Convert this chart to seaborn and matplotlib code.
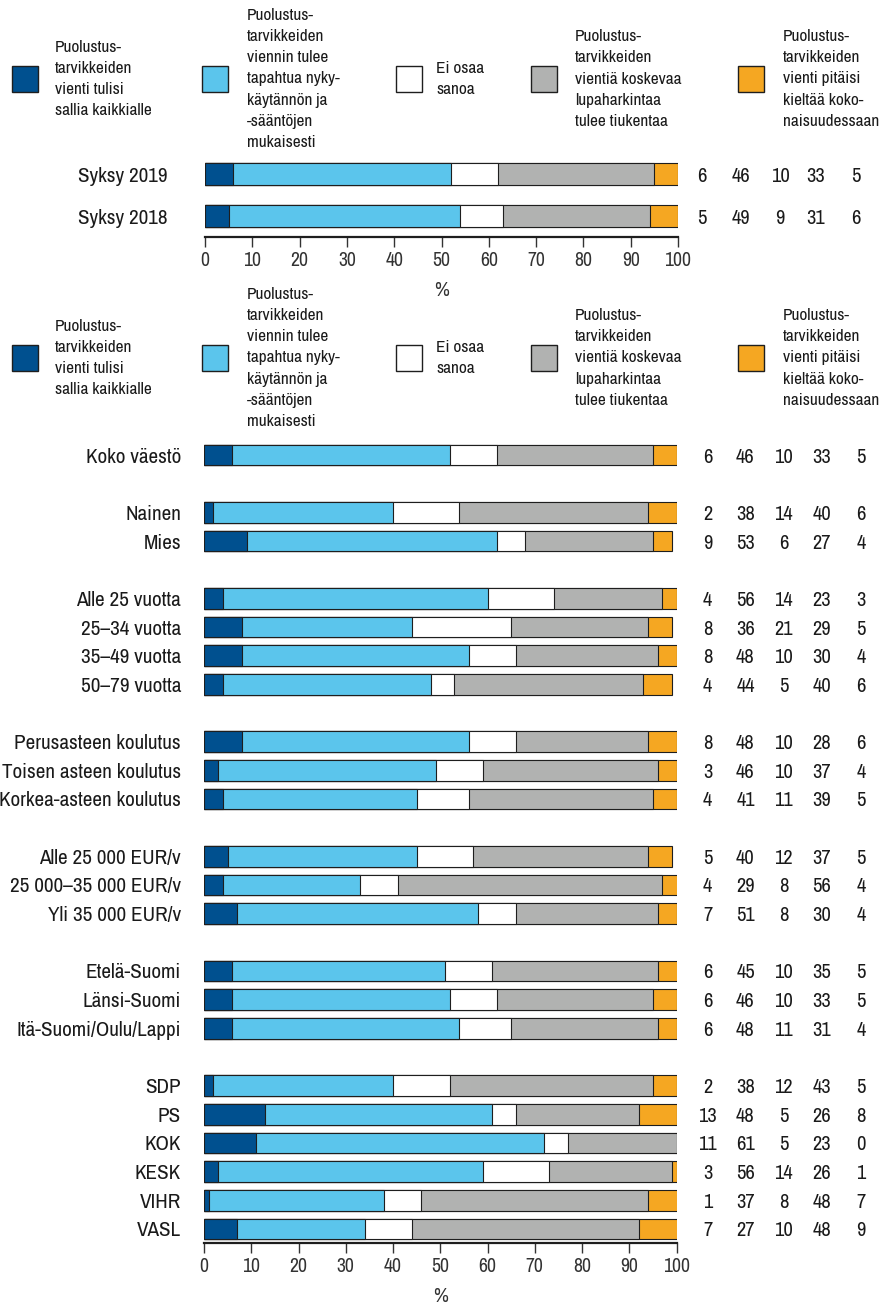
import matplotlib
matplotlib.use("Agg")
import matplotlib.pyplot as plt
from matplotlib import font_manager as fm
from matplotlib.font_manager import FontProperties
from matplotlib.textpath import TextPath
from matplotlib.patches import Rectangle
import numpy as np
import pandas as pd
import seaborn as sns

sns.set_style("white")

# --- answer options (legend) ---------------------------------------------
series_names = [
    "Puolustus-\ntarvikkeiden\nvienti tulisi\nsallia kaikkialle",
    "Puolustus-\ntarvikkeiden\nviennin tulee\ntapahtua nyky-\nkäytännön ja\n-sääntöjen\nmukaisesti",
    "Ei osaa\nsanoa",
    "Puolustus-\ntarvikkeiden\nvientiä koskevaa\nlupaharkintaa\ntulee tiukentaa",
    "Puolustus-\ntarvikkeiden\nvienti pitäisi\nkieltää koko-\nnaisuudessaan",
]
series_colors = ["#00508f", "#5bc5ec", "#ffffff", "#b1b2b1", "#f5a722"]

# --- trend panel ------------------------------------------------------------
trend_labels = ["Syksy 2019", "Syksy 2018"]
trend_allow = [6, 5]
trend_current = [46, 49]
trend_dontknow = [10, 9]
trend_tighten = [33, 31]
trend_ban = [5, 6]

# --- background groups panel -----------------------------------------------
group_labels = [
    "Koko väestö",
    "Nainen", "Mies",
    "Alle 25 vuotta", "25–34 vuotta", "35–49 vuotta", "50–79 vuotta",
    "Perusasteen koulutus", "Toisen asteen koulutus", "Korkea-asteen koulutus",
    "Alle 25 000 EUR/v", "25 000–35 000 EUR/v", "Yli 35 000 EUR/v",
    "Etelä-Suomi", "Länsi-Suomi", "Itä-Suomi/Oulu/Lappi",
    "SDP", "PS", "KOK", "KESK", "VIHR", "VASL",
]
group_sizes = [1, 2, 4, 3, 3, 3, 6]
group_allow = [6, 2, 9, 4, 8, 8, 4, 8, 3, 4, 5, 4, 7, 6, 6, 6, 2, 13, 11, 3, 1, 7]
group_current = [46, 38, 53, 56, 36, 48, 44, 48, 46, 41, 40, 29, 51, 45, 46, 48, 38, 48, 61, 56, 37, 27]
group_dontknow = [10, 14, 6, 14, 21, 10, 5, 10, 10, 11, 12, 8, 8, 10, 10, 11, 12, 5, 5, 14, 8, 10]
group_tighten = [33, 40, 27, 23, 29, 30, 40, 28, 37, 39, 37, 56, 30, 35, 33, 31, 43, 26, 23, 26, 48, 48]
group_ban = [5, 6, 4, 3, 5, 4, 6, 6, 4, 5, 5, 4, 4, 5, 5, 4, 5, 8, 0, 1, 7, 9]

W, H = 882, 1307
EDGE = "#1e1e1e"
TEXT = "#1a1a1a"
TICK = "#333333"


# --- font: prefer a narrow sans face ------------------------------------------
def pick_font():
    entries = fm.fontManager.ttflist
    for e in entries:
        low = e.name.lower()
        if ("narrow" in low or "condensed" in low) and "mono" not in low and "serif" not in low.replace("sans", ""):
            return e.name, "normal"
    for fam in ["Roboto", "Noto Sans", "DejaVu Sans", "Open Sans", "Lato", "Liberation Sans"]:
        for e in entries:
            if e.name == fam and (str(e.stretch) in ("condensed", "semi-condensed", "extra-condensed")
                                  or (isinstance(e.stretch, int) and e.stretch < 500)):
                return fam, "condensed"
    for fam in ["Roboto", "Lato", "Liberation Sans", "Noto Sans", "DejaVu Sans"]:
        if any(e.name == fam for e in entries):
            return fam, "normal"
    return "DejaVu Sans", "normal"


FONT, STRETCH = pick_font()
plt.rcParams["font.family"] = [FONT, "DejaVu Sans"]
plt.rcParams["font.stretch"] = STRETCH

fig = plt.figure(figsize=(W / 100, H / 100), dpi=100)
renderer = fig.canvas.get_renderer()
PROP = FontProperties(family=[FONT], stretch=STRETCH)


def text_width(s, size):
    t = fig.text(0, 0, s, fontsize=size)
    w = t.get_window_extent(renderer).width
    t.remove()
    return w


def size_for_digit_height(px):
    # font size (pt) whose digits are `px` pixels tall at 100 dpi
    ratio = TextPath((0, 0), "0123456789", size=100, prop=PROP).get_extents().height / 100
    return px / ratio * 0.72


def size_for_width(sample, px):
    return 20.0 * px / text_width(sample, 20.0)


LABEL_SIZE = min(size_for_digit_height(15.0), size_for_width("Korkea-asteen koulutus", 186))
NUM_SIZE = min(size_for_digit_height(14.5), size_for_width("46", 19))
TICK_SIZE = min(size_for_digit_height(14.5), size_for_width("100", 27))
LEGEND_SIZE = min(size_for_digit_height(14.5),
                  size_for_width("vientiä koskevaa", 110),
                  size_for_width("naisuudessaan", 96),
                  size_for_width("sallia kaikkialle", 102))


def line_pitch(size):
    one = fig.text(0, 0, "Ag", fontsize=size, linespacing=1.0)
    two = fig.text(0, 0, "Ag\nAg", fontsize=size, linespacing=1.0)
    d = two.get_window_extent(renderer).height - one.get_window_extent(renderer).height
    one.remove()
    two.remove()
    return d


LEGEND_SPACING = 22.7 / line_pitch(LEGEND_SIZE)


def fig_rect(left_px, right_px, top_px, bottom_px):
    return [left_px / W, 1 - bottom_px / H, (right_px - left_px) / W, (bottom_px - top_px) / H]


def draw_panel(ax, labels, order, columns, bar_width, value_x, label_pad):
    vals = np.array(columns, dtype=float)
    ends = np.cumsum(vals, axis=0)
    df = pd.DataFrame({"label": labels})
    # stacked segments: draw the longest cumulative bar first, shorter ones on top
    for k in range(len(columns) - 1, -1, -1):
        df["end"] = ends[k]
        sns.barplot(data=df, x="end", y="label", order=order, orient="y",
                    color=series_colors[k], saturation=1, width=bar_width,
                    edgecolor=EDGE, linewidth=0.8, errorbar=None, ax=ax)
    for i, lab in enumerate(labels):
        pos = order.index(lab)
        for k in range(len(columns)):
            ax.text(value_x[k], pos, f"{int(vals[k, i])}", ha="center", va="center_baseline",
                    fontsize=NUM_SIZE, color=TEXT, clip_on=False)
    ax.set_xlim(0, 100)
    ax.set_xticks(range(0, 101, 10))
    ax.set_ylabel("")
    ax.set_xlabel("%", fontsize=NUM_SIZE, color=TICK, labelpad=8)
    for side in ("top", "right", "left"):
        ax.spines[side].set_visible(False)
    ax.spines["bottom"].set_linewidth(1.6)
    ax.spines["bottom"].set_color(EDGE)
    ax.tick_params(axis="x", bottom=True, length=7, width=1.0, color=TICK,
                   labelsize=TICK_SIZE, labelcolor=TICK, pad=3)
    ax.tick_params(axis="y", left=False, length=0, labelsize=LABEL_SIZE,
                   labelcolor=TEXT, pad=label_pad)
    for t in ax.get_yticklabels():
        t.set_verticalalignment("center_baseline")


def draw_legend(center_px):
    square_x = [12, 202, 396, 531, 738]
    text_x = [55, 247, 436, 575, 783]
    size = 26
    for k, name in enumerate(series_names):
        fig.add_artist(Rectangle((square_x[k] / W, 1 - (center_px + size / 2) / H),
                                 size / W, size / H, transform=fig.transFigure,
                                 facecolor=series_colors[k], edgecolor=EDGE, linewidth=1.0))
        fig.text(text_x[k] / W, 1 - center_px / H, name, ha="left", va="center",
                 fontsize=LEGEND_SIZE, color=TEXT, linespacing=LEGEND_SPACING)


# trend panel
ax_top = fig.add_axes(fig_rect(205, 678, 153, 237))
draw_panel(ax_top, trend_labels, trend_labels,
           [trend_allow, trend_current, trend_dontknow, trend_tighten, trend_ban],
           0.52, [105.1, 113.3, 121.6, 129.2, 137.5], 27)
ax_top.set_ylim(1.5, -0.5)

# background groups panel, one empty row between groups
order = []
start = 0
for gi, n in enumerate(group_sizes):
    if gi > 0:
        order.append(" " * gi)
    order.extend(group_labels[start:start + n])
    start += n

ax_bot = fig.add_axes(fig_rect(204, 676.5, 440.7, 1243))
draw_panel(ax_bot, group_labels, order,
           [group_allow, group_current, group_dontknow, group_tighten, group_ban],
           0.715, [106.6, 114.6, 122.7, 130.7, 139.0], 16.5)
ax_bot.set_ylim(len(order) - 1 + 0.49, -0.5)

draw_legend(79)
draw_legend(358)

fig.savefig("out.png", dpi=100)
